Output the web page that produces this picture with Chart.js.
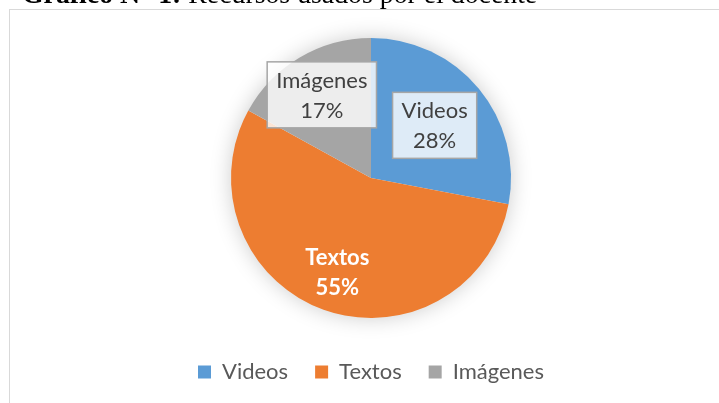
<!DOCTYPE html>
<html>
<head>
<meta charset="utf-8">
<script src="https://cdn.jsdelivr.net/npm/chart.js@4"></script>
<style>
  html, body { margin:0; padding:0; background:#fff; overflow:hidden; }
  #wrap { position:relative; width:719px; height:403px; }
  #title { position:absolute; left:22px; top:-20px; font-family:"Liberation Serif","Times New Roman",serif; font-size:27.8px; line-height:27px; color:#000; white-space:nowrap; }
  #frame { position:absolute; left:9px; top:9px; width:800px; height:500px; border:1.5px solid #D9D9D9; box-sizing:border-box; }
  canvas { position:absolute; left:0; top:0; }
</style>
</head>
<body>
<div id="wrap">
  <div id="frame"></div>
  <canvas id="c" width="719" height="403"></canvas>
  <div id="title"><b>Gráfico N° 1:</b> Recursos usados por el docente</div>
</div>
<script>
const categories = ['Videos', 'Textos', 'Imágenes'];
const values = [28, 55, 17];
const colors = ['#5B9BD5', '#ED7D31', '#A5A5A5'];

const FONT = 'Lato, "Open Sans", sans-serif';
const total = values.reduce((a, b) => a + b, 0);

// label styling per slice: radial factor, boxed or not
const labelStyle = [
  { r: 0.59, box: true, color: '#404040', bold: false },
  { r: 0.71, box: false, color: '#FFFFFF', bold: true },
  { r: 0.69, box: true, color: '#404040', bold: false }
];

const shadowPlugin = {
  id: 'pieShadow',
  beforeDatasetsDraw(chart) {
    const arc = chart.getDatasetMeta(0).data[0];
    if (!arc) return;
    const ctx = chart.ctx;
    ctx.save();
    ctx.shadowColor = 'rgba(0,0,0,0.22)';
    ctx.shadowBlur = 22;
    ctx.fillStyle = '#ffffff';
    ctx.beginPath();
    ctx.arc(arc.x, arc.y, arc.outerRadius - 1, 0, Math.PI * 2);
    ctx.fill();
    ctx.restore();
  }
};

const labelPlugin = {
  id: 'sliceLabels',
  afterDatasetsDraw(chart) {
    const ctx = chart.ctx;
    const meta = chart.getDatasetMeta(0);
    meta.data.forEach((arc, i) => {
      const st = labelStyle[i];
      const mid = (arc.startAngle + arc.endAngle) / 2;
      const rr = arc.outerRadius * st.r;
      const cx = arc.x + Math.cos(mid) * rr;
      const cy = arc.y + Math.sin(mid) * rr;
      const lines = [categories[i], Math.round(values[i] / total * 100) + '%'];
      const lh = 30;
      ctx.save();
      ctx.font = (st.bold ? 'bold ' : '') + '22px ' + FONT;
      if (st.box) {
        const w = Math.max(...lines.map(l => ctx.measureText(l).width)) + 18;
        const h = 66;
        ctx.fillStyle = 'rgba(255,255,255,0.8)';
        ctx.fillRect(cx - w / 2, cy - h / 2, w, h);
        ctx.strokeStyle = '#A6A6A6';
        ctx.lineWidth = 1.5;
        ctx.strokeRect(cx - w / 2, cy - h / 2, w, h);
      }
      ctx.fillStyle = st.color;
      ctx.textAlign = 'center';
      ctx.textBaseline = 'middle';
      ctx.fillText(lines[0], cx, cy - lh / 2 + 1);
      ctx.fillText(lines[1], cx, cy + lh / 2 + 1);
      ctx.restore();
    });
  }
};

new Chart(document.getElementById('c'), {
  type: 'pie',
  data: {
    labels: categories,
    datasets: [{
      data: values,
      backgroundColor: colors,
      borderWidth: 0,
      radius: 140
    }]
  },
  options: {
    responsive: false,
    animation: false,
    layout: { padding: { left: 23, right: 0, top: 22, bottom: 10 } },
    plugins: {
      tooltip: { enabled: false },
      legend: {
        position: 'bottom',
        labels: {
          boxWidth: 13,
          boxHeight: 13,
          padding: 27,
          color: '#595959',
          font: { family: FONT, size: 22 }
        }
      }
    }
  },
  plugins: [shadowPlugin, labelPlugin]
});
</script>
</body>
</html>
